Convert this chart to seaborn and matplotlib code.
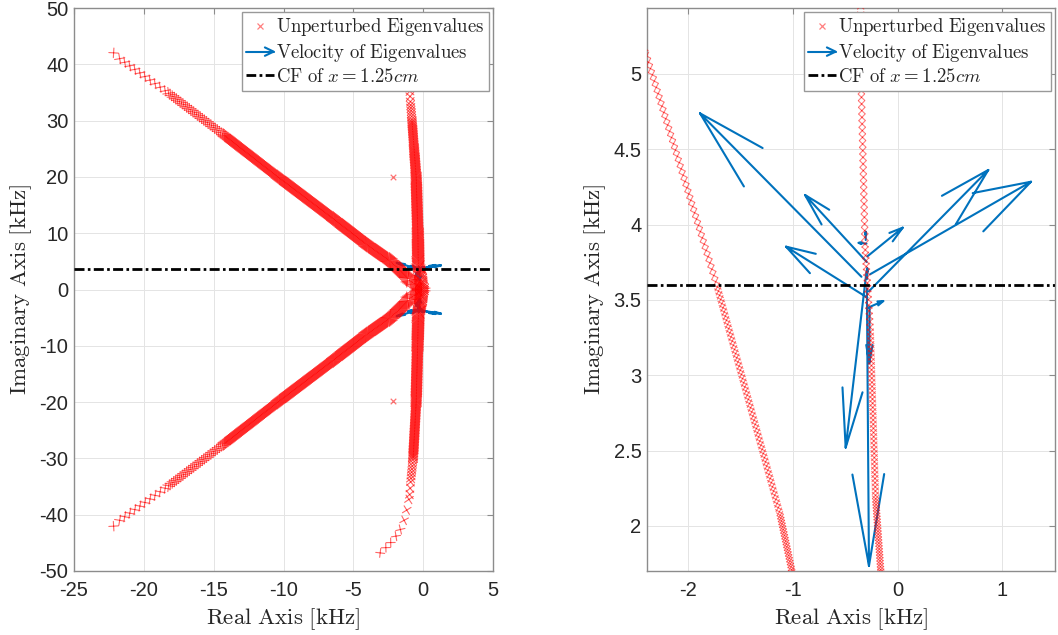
import numpy as np
import matplotlib
matplotlib.use("Agg")
import matplotlib.pyplot as plt
import seaborn as sns
from matplotlib.patheffects import TickedStroke
from matplotlib.lines import Line2D
from matplotlib.legend_handler import HandlerBase

# ---------------- data ----------------
# upper "diagonal" branch of unperturbed eigenvalues (kHz)
diag_up_re = [-22.33, -21.9, -18.3, -14.3, -10.4, -6.4, -4.05, -2.41, -1.73, -1.125, -1.01, -0.6, -0.1]
diag_up_im = [42.5, 41.3, 35.0, 27.5, 20.0, 12.5, 8.0, 5.14, 3.6, 2.08, 1.70, 1.0, 0.0]
# lower "diagonal" branch (conjugates)
diag_lo_re = [-22.33, -21.9, -18.3, -14.3, -10.4, -6.4, -4.05, -2.41, -1.73, -1.125, -1.01, -0.6, -0.1]
diag_lo_im = [-42.5, -41.3, -35.0, -27.5, -20.0, -12.5, -8.0, -5.14, -3.6, -2.08, -1.70, -1.0, 0.0]
# upper near-vertical branch
vert_up_re = [-0.1, -0.13, -0.16, -0.21, -0.26, -0.31, -0.35, -0.38, -0.5, -0.65, -0.8, -0.9, -1.0]
vert_up_im = [0.0, 1.0, 1.70, 2.19, 3.30, 3.85, 5.0, 10.0, 20.0, 25.0, 30.0, 33.0, 36.5]
# lower near-vertical branch
vert_lo_re = [-0.1, -0.13, -0.16, -0.26, -0.31, -0.35, -0.4, -0.5, -0.72, -0.88, -0.98, -1.12,
              -1.29, -1.5, -1.8, -2.15, -2.5, -2.88, -3.44]
vert_lo_im = [0.0, -1.0, -1.7, -3.3, -3.85, -5.0, -10.0, -20.0, -30.0, -33.8, -36.8, -38.6,
              -40.4, -42.1, -43.3, -44.5, -45.4, -46.4, -47.5]
# isolated eigenvalues
iso_re = [-2.15, -2.15]
iso_im = [20.0, -19.8]

cf_level = 3.6  # CF of x = 1.25 cm  [kHz]

# velocity of eigenvalues: base point (re, im) and vector (du, dv)
vel_re = [-0.345, -0.294, -0.288, -0.289, -0.275, -0.261, -0.295, -0.293, -0.298, -0.267, -0.297, -0.304, -0.290]
vel_im = [3.654, 3.752, 3.515, 3.789, 3.557, 3.671, 3.445, 3.577, 3.682, 3.447, 3.874, 3.898, 3.640]
vel_du = [-1.545, -0.591, -0.779, 0.339, 1.144, 1.539, 0.159, 0.020, -0.198, -0.003, -0.075, 0.0, 0.0]
vel_dv = [1.085, 0.445, 0.339, 0.191, 0.806, 0.614, 0.048, -1.842, -1.162, -0.367, 0.005, 0.055, 0.07]

left_xticks = [-25, -20, -15, -10, -5, 0, 5]
left_yticks = [-50, -40, -30, -20, -10, 0, 10, 20, 30, 40, 50]
right_xticks = [-2, -1, 0, 1]
right_yticks = [2, 2.5, 3, 3.5, 4, 4.5, 5]
right_ytick_labels = ["2", "2.5", "3", "3.5", "4", "4.5", "5"]

legend_labels = [r"$\mathrm{Unperturbed\ Eigenvalues}$",
                 r"$\mathrm{Velocity\ of\ Eigenvalues}$",
                 r"$\mathrm{CF\ of\ }x=1.25cm$"]

# ---------------- style ----------------
DPI = 100
sns.set_theme(style="white")
plt.rcParams["font.family"] = ["Liberation Sans", "DejaVu Sans"]
plt.rcParams["mathtext.fontset"] = "cm"
plt.rcParams["axes.unicode_minus"] = False
plt.rcParams["lines.scale_dashes"] = False

RED = "red"
BLUE = "#0072BD"
SPINE = "#8c8c8c"

fig = plt.figure(figsize=(10.58, 6.35), dpi=DPI)
W, H = 1058.0, 635.0
axL = fig.add_axes([74 / W, (H - 571) / H, (493 - 74) / W, (571 - 8) / H])
axR = fig.add_axes([647 / W, (H - 571) / H, (1055 - 647) / W, (571 - 8) / H])


def ticked_branch(ax, re, im, spacing_fn, arm_fn, alpha=0.5, lw=0.8):
    """Draw a branch as a chain of 'x' marks along the read polyline."""
    for i in range(len(re) - 1):
        ymid = 0.5 * (abs(im[i]) + abs(im[i + 1]))
        sp_px = spacing_fn(ymid)
        sp_pt = sp_px * 72.0 / DPI
        length = arm_fn(ymid) / sp_px
        effects = [TickedStroke(spacing=sp_pt, angle=a, length=length)
                   for a in (45, -135, 135, -45)]
        sns.lineplot(x=re[i:i + 2], y=im[i:i + 2], sort=False, estimator=None,
                     ax=ax, color=RED, alpha=alpha, lw=lw, zorder=4, legend=False)
        ax.lines[-1].set_path_effects(effects)


def arrow_xy(bx, by, du, dv, a=0.33, b=0.25):
    xs, ys = [], []
    for x0, y0, u, v in zip(bx, by, du, dv):
        tx, ty = x0 + u, y0 + v
        xs += [x0, tx, np.nan, tx - a * (u + b * v), tx, tx - a * (u - b * v), np.nan]
        ys += [y0, ty, np.nan, ty - a * (v - b * u), ty, ty - a * (v + b * u), np.nan]
    return xs, ys


class ArrowHandler(HandlerBase):
    def create_artists(self, legend, orig_handle, xdescent, ydescent, width, height,
                       fontsize, trans):
        y = height / 2.0 - ydescent
        x0, x1 = -xdescent, -xdescent + width
        hl, hw = 0.32 * width, 0.32 * height
        shaft = Line2D([x0, x1], [y, y], color=BLUE, lw=1.5)
        head = Line2D([x1 - hl, x1, x1 - hl], [y + hw, y, y - hw], color=BLUE, lw=1.5)
        for art in (shaft, head):
            art.set_transform(trans)
        return [shaft, head]


def left_spacing(y):
    return float(np.clip(9.0 * (y / 42.5) ** 4, 1.5, 7.0))


def left_arm(y):
    return float(np.clip(5.0 + 4.0 * (1.0 - y / 40.0), 4.5, 9.0))


def right_spacing(y):
    return float(np.clip(1.5 * y, 2.0, 9.0))


def right_arm(y):
    return 4.5


arrow_handle = Line2D([], [], color=BLUE)
marker_handle = Line2D([], [], ls="none", marker="x", color=RED, alpha=0.5, ms=4.5, mew=0.9)
cf_handle = Line2D([], [], color="black", lw=2.0, dashes=(7, 2.4, 2, 2.4))

for ax, spfn, armfn, alpha in ((axL, left_spacing, left_arm, 0.6),
                               (axR, right_spacing, right_arm, 0.5)):
    # CF line
    ax.axhline(cf_level, color="black", lw=2.0, dashes=(7.2, 2.4, 1.9, 2.4), zorder=5)
    # velocity arrows
    xs, ys = arrow_xy(vel_re, vel_im, vel_du, vel_dv)
    ax.plot(xs, ys, color=BLUE, lw=1.5, zorder=3, solid_capstyle="round")
    if ax is axL:
        xs2, ys2 = arrow_xy(vel_re, [-v for v in vel_im], vel_du, [-v for v in vel_dv])
        ax.plot(xs2, ys2, color=BLUE, lw=1.5, zorder=3)
    # eigenvalue branches
    for re, im in ((diag_up_re, diag_up_im), (diag_lo_re, diag_lo_im),
                   (vert_up_re, vert_up_im), (vert_lo_re, vert_lo_im)):
        ticked_branch(ax, re, im, spfn, armfn, alpha=alpha)
    if ax is axL:
        sns.scatterplot(x=iso_re, y=iso_im, ax=ax, marker="x", color=RED, alpha=0.55,
                        s=16, linewidth=0.9, zorder=4, legend=False)

    ax.grid(True, color="#e4e4e4", lw=0.7)
    ax.set_axisbelow(True)
    for sp in ax.spines.values():
        sp.set_color(SPINE)
        sp.set_linewidth(1.0)
        sp.set_visible(True)
    ax.tick_params(direction="in", length=4, width=0.8, color=SPINE, top=True, right=True,
                   labelsize=14.5, labelcolor="#262626")
    ax.tick_params(axis="x", pad=7)
    ax.tick_params(axis="y", pad=4)
    ax.set_xlabel(r"$\mathrm{Real\ Axis\ [kHz]}$", fontsize=16.5, color="#262626", labelpad=5)
    ax.set_ylabel(r"$\mathrm{Imaginary\ Axis\ [kHz]}$", fontsize=16.5, color="#262626", labelpad=4)
    ax.legend([marker_handle, arrow_handle, cf_handle], legend_labels,
              handler_map={arrow_handle: ArrowHandler()},
              loc="upper right", fontsize=13.5, frameon=True, fancybox=False, shadow=False,
              framealpha=1.0, edgecolor="#999999", borderaxespad=0.2, borderpad=0.25,
              handlelength=1.45, handletextpad=0.15, labelspacing=0.2)
    ax.get_legend().get_frame().set_linewidth(1.0)
    ax.get_legend().set_zorder(10)

axL.set_xlim(-25, 5)
axL.set_ylim(-50, 50)
axL.set_xticks(left_xticks)
axL.set_yticks(left_yticks)

axR.set_xlim(-2.397, 1.507)
axR.set_ylim(1.701, 5.438)
axR.set_xticks(right_xticks)
axR.set_yticks(right_yticks)
axR.set_yticklabels(right_ytick_labels)

fig.savefig("out.png", dpi=DPI)
